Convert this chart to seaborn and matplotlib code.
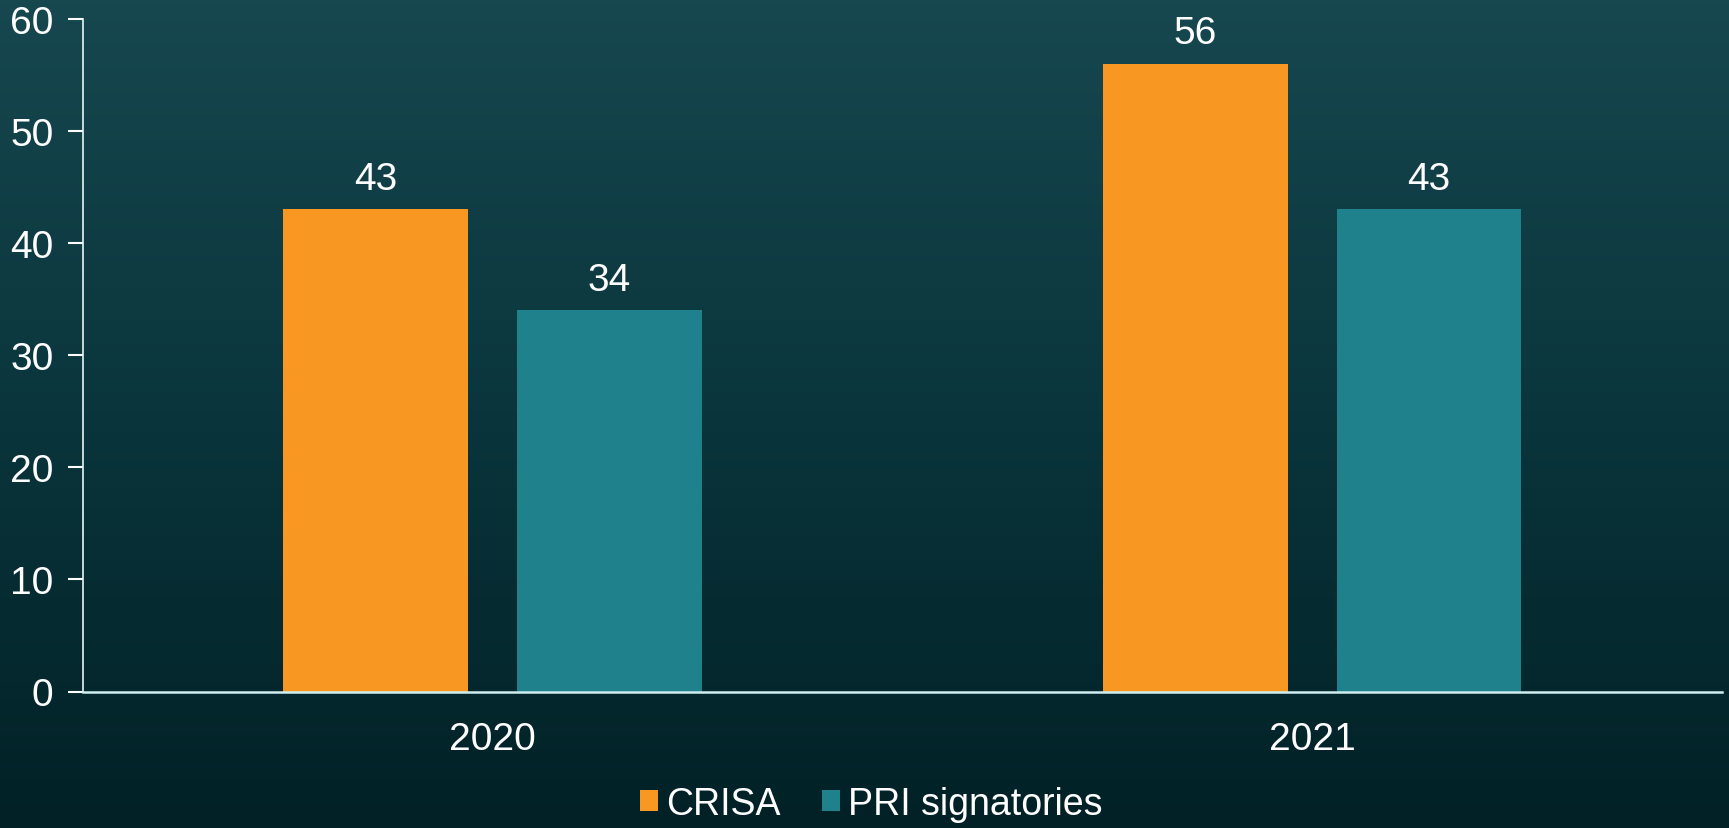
import numpy as np
import pandas as pd
import matplotlib
matplotlib.use('Agg')
import matplotlib.pyplot as plt
import seaborn as sns
from matplotlib.colors import LinearSegmentedColormap

years = ['2020', '2021']
crisa = [43, 56]
pri = [34, 43]
series = ['CRISA', 'PRI signatories']
colors = ['#f89823', '#1e818c']

df = pd.DataFrame({
    'year': years * 2,
    'value': crisa + pri,
    'series': [series[0]] * 2 + [series[1]] * 2,
})

sns.set_theme(style='white')
plt.rcParams['font.family'] = ['Liberation Sans', 'DejaVu Sans']

fig = plt.figure(figsize=(17.29, 8.29), dpi=100)

# gradient background
bg = fig.add_axes([0, 0, 1, 1], zorder=-10)
cmap = LinearSegmentedColormap.from_list('bg', ['#17474f', '#0a353c', '#012126'])
bg.imshow(np.linspace(0, 1, 256).reshape(-1, 1), aspect='auto', cmap=cmap,
          extent=[0, 1, 0, 1])
bg.axis('off')

ax = fig.add_axes([82.7 / 1729, 1 - 692.5 / 829, (1722 - 82.7) / 1729, (692.5 - 19.8) / 829])
ax.patch.set_alpha(0)

sns.barplot(data=df, x='year', y='value', hue='series', palette=colors,
            width=0.57, gap=0.21, ax=ax, legend=True, saturation=1,
            linewidth=0, edgecolor='none')

for c in ax.containers:
    ax.bar_label(c, labels=[f'{v:.0f}' for v in c.datavalues], padding=9,
                 color='white', fontsize=28)

ax.set_ylim(0, 60)
ax.set_yticks(range(0, 61, 10))
ax.set_xlabel('')
ax.set_ylabel('')
for s in ['top', 'right']:
    ax.spines[s].set_visible(False)
ax.spines['left'].set_color('#e8f4f4')
ax.spines['left'].set_linewidth(1.2)
ax.spines['bottom'].set_color('#cfeef0')
ax.spines['bottom'].set_linewidth(1.8)
ax.tick_params(axis='y', left=True, length=11, width=1.5, color='white',
               labelcolor='white', labelsize=28, pad=10)
ax.tick_params(axis='x', bottom=False, labelcolor='white', labelsize=28, pad=15)

leg = ax.legend(loc='center', bbox_to_anchor=(871 / 1729, 1 - 805 / 829),
                bbox_transform=fig.transFigure, ncol=2, frameon=False,
                fontsize=27, handlelength=0.5, handleheight=0.5,
                handletextpad=0.2, columnspacing=1.1)
for t in leg.get_texts():
    t.set_color('white')
for h in leg.legend_handles:
    h.set_edgecolor('none')

fig.savefig('out.png', dpi=100)
